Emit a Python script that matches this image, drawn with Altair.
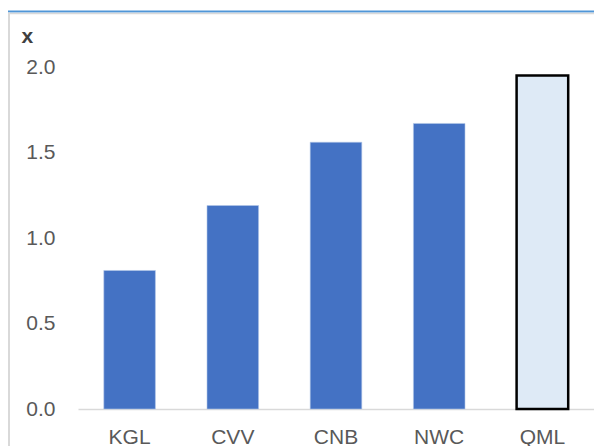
import altair as alt
import pandas as pd

# Multiples by company (x)
companies = ["KGL", "CVV", "CNB", "NWC", "QML"]
multiples = [0.81, 1.19, 1.56, 1.67, 1.95]
highlight = [False, False, False, False, True]

df = pd.DataFrame({"company": companies, "multiple": multiples, "highlight": highlight})

FONT = "Liberation Sans, Arial, sans-serif"
W, H = 516, 342

x_enc = alt.X(
    "company:N",
    sort=companies,
    scale=alt.Scale(paddingInner=0.5, paddingOuter=0.25),
    axis=alt.Axis(
        title=None, ticks=False, labelPadding=17, labelAngle=0,
        labelFont=FONT, labelFontSize=21, labelColor="#595959",
        domainColor="#d9d9d9", domainWidth=1.5,
    ),
)
y_enc = alt.Y(
    "multiple:Q",
    scale=alt.Scale(domain=[0, 2.0], nice=False),
    axis=alt.Axis(
        title="x", values=[0, 0.5, 1.0, 1.5, 2.0], format=".1f",
        grid=False, ticks=False, domain=False, labelPadding=23,
        labelFont=FONT, labelFontSize=21, labelColor="#595959",
        titleAngle=0, titleAlign="left", titleBaseline="alphabetic",
        titleX=-57, titleY=-25, titleFont=FONT, titleFontSize=21,
        titleFontWeight="bold", titleColor="#404040",
    ),
)

bars = alt.Chart(df).mark_bar().encode(
    x=x_enc,
    y=y_enc,
    color=alt.condition("datum.highlight", alt.value("#deeaf6"), alt.value("#4472c4")),
    stroke=alt.condition("datum.highlight", alt.value("#000000"), alt.value("#b4c7e7")),
    strokeWidth=alt.condition("datum.highlight", alt.value(2.5), alt.value(0.6)),
)

# Panel frame: blue top rule, grey inner rule and grey left edge
one = pd.DataFrame({"k": [0]})
blue_top = alt.Chart(one).mark_rule(color="#4f96d8", strokeWidth=2).encode(
    x=alt.value(-70), x2=alt.value(W), y=alt.value(-55.5)
)
grey_top = alt.Chart(one).mark_rule(color="#d9d9d9", strokeWidth=1.5).encode(
    x=alt.value(-69), x2=alt.value(W), y=alt.value(-53.5)
)
grey_left = alt.Chart(one).mark_rule(color="#d9d9d9", strokeWidth=2).encode(
    x=alt.value(-69), y=alt.value(-54.5), y2=alt.value(H + 37)
)

chart = (
    alt.layer(bars, blue_top, grey_top, grey_left)
    .properties(
        width=W,
        height=H,
        padding={"left": 78, "top": 67, "right": 0, "bottom": 37},
        autosize=alt.AutoSizeParams(type="none"),
        background="#ffffff",
    )
    .configure_view(stroke=None)
)

chart.save("out.html", embed_options={"renderer": "svg", "actions": False})
